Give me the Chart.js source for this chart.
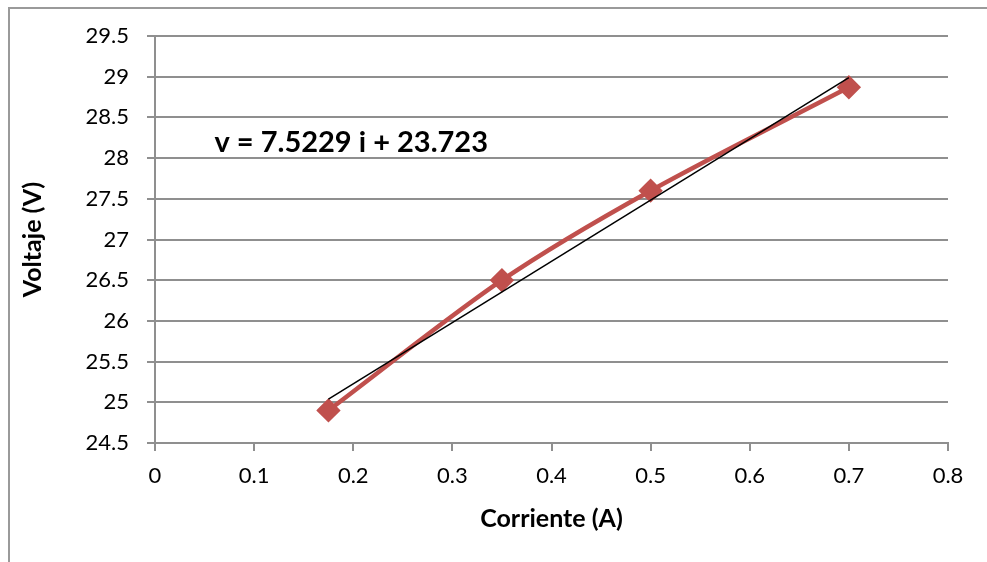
<!DOCTYPE html>
<html>
<head>
<meta charset="utf-8">
<script src="https://cdn.jsdelivr.net/npm/chart.js@4/dist/chart.umd.min.js"></script>
<style>
  html, body { margin: 0; padding: 0; background: #fff; }
  #wrap { width: 987px; height: 562px; position: relative; }
</style>
</head>
<body>
<div id="wrap"><canvas id="chart"></canvas></div>
<script>
// measured points
var corriente = [0.175, 0.35, 0.5, 0.7];
var voltaje = [24.9, 26.5, 27.6, 28.87];

// linear trendline ends
var trendX = [0.175, 0.7];
var trendY = [25.04, 28.99];

var ecuacion = "v = 7.5229 i + 23.723";
var ecuacionPos = [0.06, 28.19];

var gridColor = "#8f8f8f";
var fontName = "Lato, 'Liberation Sans', sans-serif";

var puntos = corriente.map(function(x, i) { return {x: x, y: voltaje[i]}; });
var tendencia = trendX.map(function(x, i) { return {x: x, y: trendY[i]}; });

// outer frame (only top and left show in the picture) + equation text
var extras = {
  id: "extras",
  beforeDraw: function(chart) {
    var ctx = chart.ctx;
    ctx.save();
    ctx.strokeStyle = "#9a9a9a";
    ctx.lineWidth = 2;
    ctx.beginPath();
    ctx.moveTo(9, chart.height);
    ctx.lineTo(9, 8);
    ctx.lineTo(chart.width, 8);
    ctx.stroke();
    ctx.restore();
  },
  afterDatasetsDraw: function(chart) {
    var ctx = chart.ctx;
    var xs = chart.scales.x, ys = chart.scales.y;
    ctx.save();
    ctx.fillStyle = "#000";
    ctx.font = "bold 29px " + fontName;
    ctx.textAlign = "left";
    ctx.textBaseline = "middle";
    ctx.fillText(ecuacion, xs.getPixelForValue(ecuacionPos[0]), ys.getPixelForValue(ecuacionPos[1]));
    ctx.restore();
  }
};

new Chart(document.getElementById("chart"), {
  type: "scatter",
  data: {
    datasets: [{
      label: "Voltaje",
      data: puntos,
      showLine: true,
      borderColor: "#C0504D",
      backgroundColor: "#C0504D",
      borderWidth: 4.5,
      tension: 0.3,
      pointStyle: "rectRot",
      pointRadius: 9,
      pointHoverRadius: 9,
      order: 2
    }, {
      label: "Tendencia",
      data: tendencia,
      showLine: true,
      borderColor: "#000",
      borderWidth: 1.5,
      pointRadius: 0,
      order: 1
    }]
  },
  options: {
    responsive: true,
    maintainAspectRatio: false,
    animation: false,
    layout: { padding: { left: 10, right: 39, top: 36, bottom: 0 } },
    plugins: {
      legend: { display: false },
      tooltip: { enabled: false }
    },
    scales: {
      x: {
        type: "linear",
        min: 0,
        max: 0.8,
        afterFit: function(s) { s.height = 119; },
        border: { display: true, color: gridColor, width: 2 },
        grid: { drawOnChartArea: false, drawTicks: true, tickLength: 8, color: gridColor, lineWidth: 2 },
        ticks: {
          stepSize: 0.1,
          padding: 12,
          color: "#000",
          font: { family: fontName, size: 22 },
          callback: function(v) { return String(+v.toFixed(2)); }
        },
        title: {
          display: true,
          text: "Corriente (A)",
          color: "#000",
          font: { family: fontName, size: 25, weight: "bold" },
          padding: { top: 0, bottom: 28 }
        }
      },
      y: {
        min: 24.5,
        max: 29.5,
        afterFit: function(s) { s.width = 145; },
        border: { display: true, color: gridColor, width: 2 },
        grid: { drawTicks: true, tickLength: 8, color: gridColor, lineWidth: 2 },
        ticks: {
          stepSize: 0.5,
          padding: 18,
          color: "#000",
          font: { family: fontName, size: 22 },
          callback: function(v) { return String(+v.toFixed(2)); }
        },
        title: {
          display: true,
          text: "Voltaje (V)",
          color: "#000",
          font: { family: fontName, size: 25, weight: "bold" },
          padding: { top: 8, bottom: 0 }
        }
      }
    }
  },
  plugins: [extras]
});
</script>
</body>
</html>
